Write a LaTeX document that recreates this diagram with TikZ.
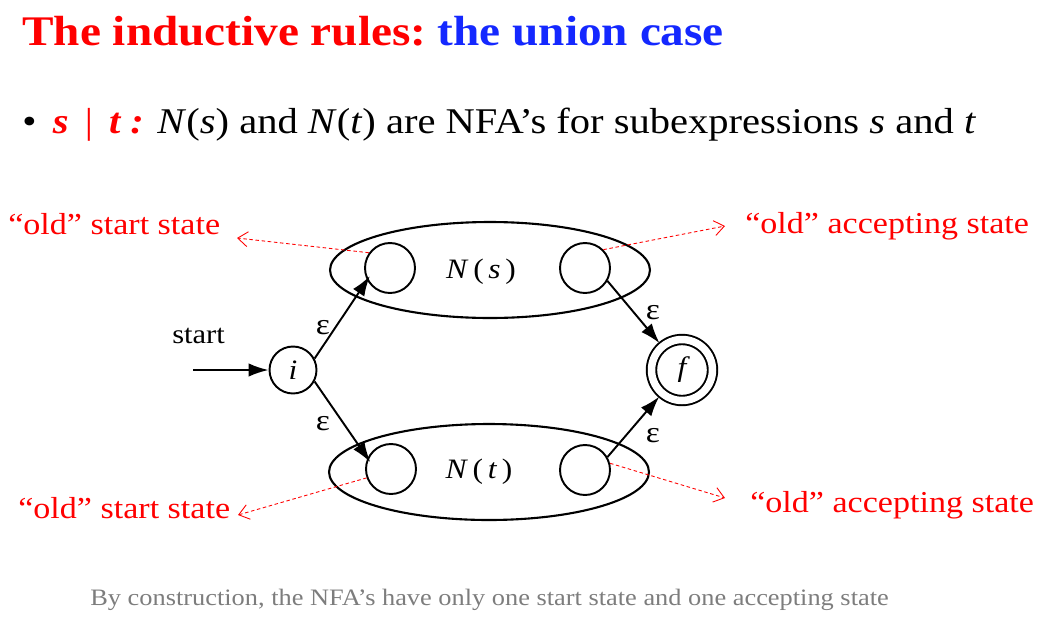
\documentclass[tikz,border=0pt]{standalone}
\usepackage{fontspec}
\setmainfont{Liberation Serif}[FakeStretch=1.12]
\usetikzlibrary{arrows.meta,positioning,shapes.geometric}
\definecolor{SlideRed}{RGB}{255,0,0}
\definecolor{SlideBlue}{RGB}{20,40,255}
\definecolor{SlideGray}{RGB}{125,125,125}

\begin{document}
\begin{tikzpicture}[x=0.02cm,y=-0.02cm,
  state/.style={circle,draw,line width=1.1pt,minimum size=1cm,inner sep=0pt,font=\fontsize{16pt}{18pt}\selectfont\itshape},
  acc/.style={state,double,double distance=0.15cm,minimum size=1.22cm,outer sep=0.09cm},
  nfa/.style={ellipse,draw,line width=1.2pt,minimum width=6.4cm,minimum height=1.92cm},
  eps/.style={-{Latex[length=0.4cm,width=0.27cm]},line width=1.1pt},
  epslab/.style={font=\fontsize{17pt}{20pt}\selectfont},
  old/.style={SlideRed,dash pattern=on 2pt off 1.5pt,line width=0.5pt,-{Straight Barb[length=0.2cm,width=0.3cm]}},
  note/.style={text=SlideRed,anchor=base west,inner sep=0pt,font=\fontsize{17.3pt}{20pt}\selectfont}]
\useasboundingbox (0,0) rectangle (1042,623);

% heading and bullet
\node[anchor=base west,inner sep=0pt,font=\fontsize{24pt}{29pt}\selectfont\bfseries] (title) at (22,45)
  {\textcolor{SlideRed}{The inductive rules:}\hspace{-0.1em} \textcolor{SlideBlue}{the union case}};
\node[anchor=base west,inner sep=0pt,font=\fontsize{20.6pt}{25pt}\selectfont] (bullet) at (22,133)
  {\textbullet\hspace{0.45em}\textcolor{SlideRed}{\bfseries\itshape s \,{\mdseries\upshape|}\, t :} \textit{N}(\textit{s}) and \textit{N}(\textit{t}) are NFA’s for subexpressions \textit{s} and \textit{t}};

% the two sub-automata
\node[nfa] (Ns) at (490,270) {};
\node[nfa] (Nt) at (489,472) {};
\node[state] (s1) at (390,268) {};
\node[state] (s2) at (585,268) {};
\node[state] (t1) at (391,469) {};
\node[state] (t2) at (585,470) {};
\node[font=\fontsize{16pt}{20pt}\selectfont] (lNs) at (481,272) {\textit{N}\,(\,\textit{s}\,)};
\node[font=\fontsize{16pt}{20pt}\selectfont] (lNt) at (479,472) {\textit{N}\,(\,\textit{t}\,)};

% new start and accepting states
\node[state,minimum size=0.94cm] (i) at (293,370) {i};
\node[acc] (f) at (682,370) {f};
\coordinate (in) at (193,370);
\node[anchor=base west,inner sep=0pt,font=\fontsize{15.5pt}{18pt}\selectfont] (startlab) at (172,343) {start};

\draw[eps] (in) -- (i);
\draw[eps,shorten >=-0.1cm] (i.28) -- (s1.208);
\draw[eps,shorten >=-0.1cm] (i.-28) -- (t1.155);
\draw[eps] (s2.-30) -- (f);
\draw[eps] (t2.30) -- (f);
\node[epslab] (e1) at (323,328) {ε};
\node[epslab] (e2) at (323,424) {ε};
\node[epslab] (e3) at (653,313) {ε};
\node[epslab] (e4) at (653,436) {ε};

% red remarks
\node[note] (o1) at (8,234) {“old” start state};
\node[note] (o2) at (745,233) {“old” accepting state};
\node[note] (o3) at (18,518) {“old” start state};
\node[note] (o4) at (750,512) {“old” accepting state};
\coordinate (p1) at (237,238);
\coordinate (p2) at (725,226);
\coordinate (p3) at (238,515);
\coordinate (p4) at (725,498);
\draw[old] (s1.144) -- (p1);
\draw[old] (s2.45) -- (p2);
\draw[old] (t1.200) -- (p3);
\draw[old] (t2.15) -- (p4);

\node[anchor=base west,inner sep=0pt,text=SlideGray,font=\fontsize{13.4pt}{15pt}\selectfont] (foot) at (90,605)
  {By construction, the NFA’s have only one start state and one accepting state};
\end{tikzpicture}
\end{document}
